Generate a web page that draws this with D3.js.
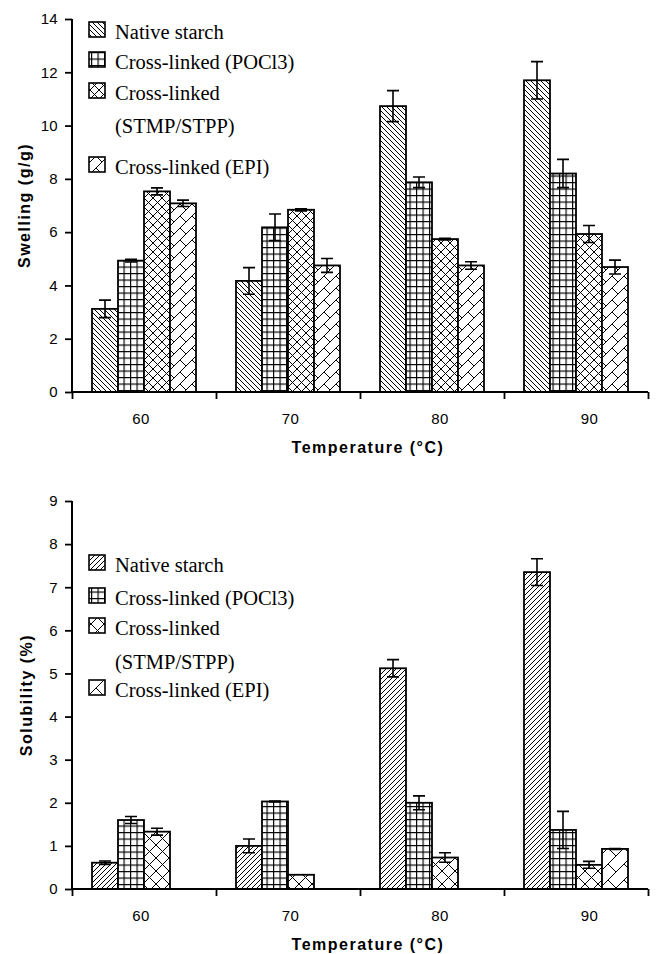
<!DOCTYPE html>
<html><head><meta charset="utf-8">
<script src="https://cdn.jsdelivr.net/npm/d3@7"></script>
<style>body{margin:0;background:#fff}svg{display:block}</style>
</head><body>
<svg id="c" width="657" height="954"></svg>
<script>
const categories = ["60", "70", "80", "90"];
const seriesNames = ["Native starch", "Cross-linked (POCl3)", "Cross-linked (STMP/STPP)", "Cross-linked (EPI)"];

const swellNative = [3.12, 4.17, 10.73, 11.70];
const swellNativeErr = [0.33, 0.50, 0.58, 0.70];
const swellPOCl3 = [4.93, 6.18, 7.87, 8.20];
const swellPOCl3Err = [0.05, 0.50, 0.20, 0.53];
const swellSTMP = [7.53, 6.84, 5.74, 5.93];
const swellSTMPErr = [0.13, 0.04, 0.03, 0.32];
const swellEPI = [7.08, 4.75, 4.75, 4.69];
const swellEPIErr = [0.12, 0.26, 0.14, 0.26];

const solNative = [0.61, 1.00, 5.12, 7.35];
const solNativeErr = [0.04, 0.16, 0.20, 0.31];
const solPOCl3 = [1.60, 2.03, 2.00, 1.37];
const solPOCl3Err = [0.08, 0.01, 0.16, 0.43];
const solSTMP = [1.33, 0.33, 0.73, 0.56];
const solSTMPErr = [0.08, 0.00, 0.11, 0.08];
const solEPI = [null, null, null, 0.93];
const solEPIErr = [null, null, null, 0.01];

const swellTicks = [0, 2, 4, 6, 8, 10, 12, 14];
const solTicks = [0, 1, 2, 3, 4, 5, 6, 7, 8, 9];

const topLegendLines = [["Native starch"], ["Cross-linked (POCl3)"], ["Cross-linked", "(STMP/STPP)"], ["Cross-linked (EPI)"]];
const botLegendLines = [["Native starch"], ["Cross-linked (POCl3)"], ["Cross-linked", "(STMP/STPP)"], ["Cross-linked (EPI)"]];

const svg = d3.select("#c");
const defs = svg.append("defs");

function pat(id, size, d, sw) {
  const p = defs.append("pattern").attr("id", id).attr("patternUnits", "userSpaceOnUse")
    .attr("width", size).attr("height", size);
  p.append("rect").attr("width", size).attr("height", size).attr("fill", "#fff");
  p.append("path").attr("d", d).attr("stroke", "#000").attr("stroke-width", sw).attr("fill", "none");
}
// top patterns
pat("tNative", 5, "M0,0L5,5M-1,4L1,6M4,-1L6,1", 1);
pat("grid", 6.5, "M0,0.5H6.5M0.5,0V6.5", 1.3);
pat("tCross", 9, "M0,0L9,9M9,0L0,9", 1);
pat("tBrick", 12, "M0,12L12,0M-1,1L1,-1M11,13L13,11M0,0L6,6", 1);
// bottom patterns
pat("bNative", 5, "M0,5L5,0M-1,1L1,-1M4,6L6,4", 1);
pat("bCross", 13, "M0,0L13,13M13,0L0,13", 1);
pat("bBrick", 16, "M0,16L16,0M-1,1L1,-1M15,17L17,15M0,0L8,8", 1);

const fontSans = "'Liberation Sans', Arial, sans-serif";
const fontSerif = "'Liberation Serif', 'Times New Roman', serif";

function drawChart(cfg) {
  const g = svg.append("g");
  const x = d3.scaleBand().domain(categories).range([72, 648]).paddingInner(0.2778).paddingOuter(0.1389);
  const xs = d3.scaleBand().domain(seriesNames).range([0, x.bandwidth()]);
  const y = d3.scaleLinear().domain([0, cfg.ymax]).range([cfg.y0, cfg.ytop]);
  const xb = d3.scaleLinear().domain([0, 4]).range([72, 648]);
  const xl = d3.scalePoint().domain(categories).range([141, 589.5]);

  // bars
  cfg.series.forEach((s, si) => {
    const data = categories.map((c, i) => ({c, v: s.vals[i], e: s.errs[i]})).filter(d => d.v != null);
    g.selectAll(null).data(data).enter().append("rect")
      .attr("x", d => x(d.c) + xs(seriesNames[si]))
      .attr("y", d => y(d.v))
      .attr("width", xs.bandwidth())
      .attr("height", d => y(0) - y(d.v))
      .attr("fill", `url(#${s.pat})`)
      .attr("stroke", "#000").attr("stroke-width", 1.8);
    const eb = data.filter(d => d.e != null && d.e > 0);
    const cx = d => x(d.c) + xs(seriesNames[si]) + xs.bandwidth() / 2;
    g.selectAll(null).data(eb).enter().append("path")
      .attr("d", d => `M${cx(d)},${y(d.v + d.e)}V${y(d.v - d.e)}M${cx(d) - 6},${y(d.v + d.e)}H${cx(d) + 6}M${cx(d) - 6},${y(d.v - d.e)}H${cx(d) + 6}`)
      .attr("stroke", "#000").attr("stroke-width", 1.6).attr("fill", "none");
  });

  // y axis
  const ya = g.append("g").attr("transform", "translate(72,0)")
    .call(d3.axisLeft(y).tickValues(cfg.ticks).tickSize(7).tickPadding(7).tickFormat(d3.format("d")));
  ya.select(".domain").attr("stroke-width", 2).attr("d", `M-0,${cfg.ytop}V${cfg.y0}`);
  ya.selectAll(".tick line").attr("stroke-width", 1.8);
  ya.selectAll("text").attr("font-family", fontSans).attr("font-size", 15).attr("fill", "#000")
    .attr("letter-spacing", 0.3);

  // x axis
  const xa = g.append("g").attr("transform", `translate(0,${cfg.y0})`)
    .call(d3.axisBottom(xb).tickValues([0, 1, 2, 3, 4]).tickSize(7).tickFormat(""));
  xa.select(".domain").attr("stroke-width", 2).attr("d", `M72,0H648`);
  xa.selectAll(".tick line").attr("stroke-width", 1.8);
  g.selectAll(null).data(categories).enter().append("text")
    .attr("x", d => xl(d)).attr("y", cfg.y0 + 32)
    .attr("text-anchor", "middle").attr("font-family", fontSans).attr("font-size", 15)
    .attr("letter-spacing", 0.3).text(d => d);

  // titles
  g.append("text").attr("x", 368).attr("y", cfg.y0 + 61).attr("text-anchor", "middle")
    .attr("font-family", fontSans).attr("font-weight", "bold").attr("font-size", 16)
    .attr("letter-spacing", 1.5).text("Temperature (\u00B0C)");
  g.append("text").attr("transform", `translate(${cfg.ytx},${(cfg.y0 + cfg.ytop) / 2}) rotate(-90)`)
    .attr("text-anchor", "middle").attr("font-family", fontSans).attr("font-weight", "bold")
    .attr("font-size", 16).attr("letter-spacing", 1.5).text(cfg.ytitle);

  // legend
  cfg.legend.forEach((lines, i) => {
    const by = cfg.legendY[i];
    g.append("rect").attr("x", 89).attr("y", by - 17).attr("width", 16).attr("height", 15)
      .attr("fill", `url(#${cfg.series[i].pat})`).attr("stroke", "#000").attr("stroke-width", 1.6);
    lines.forEach((t, j) => {
      g.append("text").attr("x", 115).attr("y", by + j * cfg.lineGap)
        .attr("font-family", fontSerif).attr("font-size", 20.5).text(t);
    });
  });
}

drawChart({
  ymax: 14, y0: 392, ytop: 19, ticks: swellTicks, ytitle: "Swelling (g/g)", ytx: 30,
  series: [
    {vals: swellNative, errs: swellNativeErr, pat: "tNative"},
    {vals: swellPOCl3, errs: swellPOCl3Err, pat: "grid"},
    {vals: swellSTMP, errs: swellSTMPErr, pat: "tCross"},
    {vals: swellEPI, errs: swellEPIErr, pat: "tBrick"}
  ],
  legend: topLegendLines, legendY: [39, 69, 100, 174], lineGap: 33
});
drawChart({
  ymax: 9, y0: 889, ytop: 501, ticks: solTicks, ytitle: "Solubility (%)", ytx: 32,
  series: [
    {vals: solNative, errs: solNativeErr, pat: "bNative"},
    {vals: solPOCl3, errs: solPOCl3Err, pat: "grid"},
    {vals: solSTMP, errs: solSTMPErr, pat: "bCross"},
    {vals: solEPI, errs: solEPIErr, pat: "bBrick"}
  ],
  legend: botLegendLines, legendY: [572, 605, 635, 697], lineGap: 34
});
</script>
</body></html>
